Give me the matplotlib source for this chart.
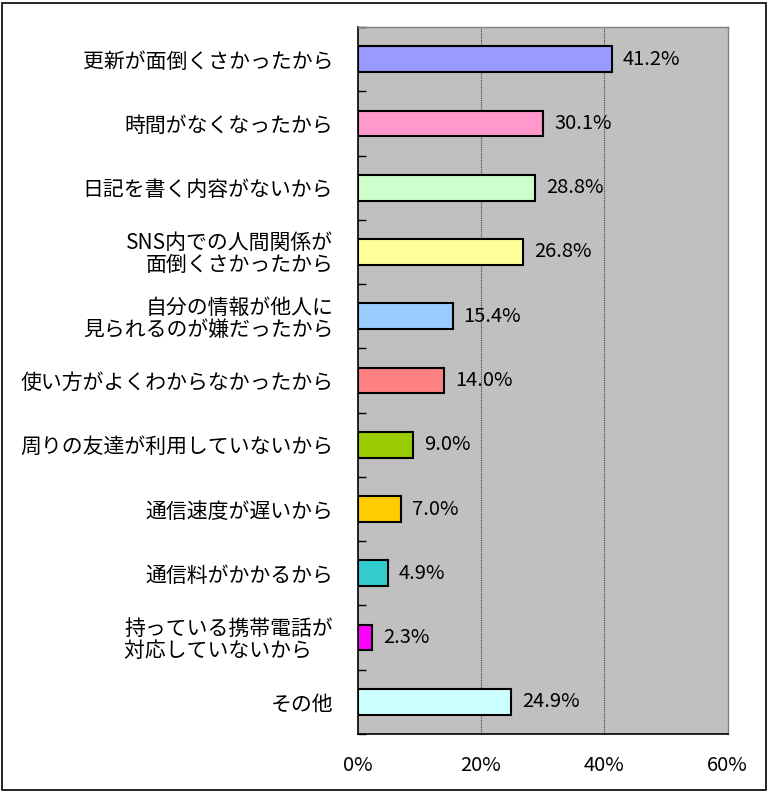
import matplotlib
matplotlib.use("Agg")
import matplotlib.pyplot as plt
from matplotlib.patches import Rectangle

plt.rcParams['font.family'] = ['Noto Sans CJK JP', 'DejaVu Sans']

categories = [
    "更新が面倒くさかったから",
    "時間がなくなったから",
    "日記を書く内容がないから",
    "SNS内での人間関係が\n面倒くさかったから",
    "自分の情報が他人に\n見られるのが嫌だったから",
    "使い方がよくわからなかったから",
    "周りの友達が利用していないから",
    "通信速度が遅いから",
    "通信料がかかるから",
    "持っている携帯電話が\n対応していないから　",
    "その他",
]
values = [41.2, 30.1, 28.8, 26.8, 15.4, 14.0, 9.0, 7.0, 4.9, 2.3, 24.9]
colors = ["#9999FF", "#FF99CC", "#CCFFCC", "#FFFF99", "#99CCFF", "#FF8080",
          "#99CC00", "#FFCC00", "#33CCCC", "#FF00FF", "#CCFFFF"]
xticks = [0, 20, 40, 60]
xticklabels = ["0%", "20%", "40%", "60%"]

fig = plt.figure(figsize=(7.7, 7.93), dpi=100)
fig.patch.set_facecolor("white")
fig.patches.append(Rectangle((0.003, 0.004), 0.992, 0.992, transform=fig.transFigure,
                             fill=False, edgecolor="black", linewidth=1.2))

ax = fig.add_axes([0.4643, 0.0744, 0.4807, 0.8915])
ax.set_facecolor("#C0C0C0")

n = len(categories)
ypos = list(range(n))
ax.barh(ypos, values, height=0.4, color=colors, edgecolor="black", linewidth=1.5, zorder=3)
ax.set_ylim(n - 0.5, -0.5)
ax.set_xlim(0, 60)

for y, v in zip(ypos, values):
    ax.text(v + 1.8, y, f"{v:.1f}%", va="center", ha="left", fontsize=14.5, zorder=4)

ax.set_xticks(xticks)
ax.set_xticklabels(xticklabels, fontsize=14.5)
ax.set_yticks(ypos)
ax.set_yticklabels(categories, fontsize=15, linespacing=1.0, multialignment="right")
ax.tick_params(axis="y", length=0, pad=17.5)
ax.tick_params(axis="x", length=0, pad=15)

# minor ticks between categories (inward)
ax.set_yticks([i - 0.5 for i in range(n + 1)], minor=True)
ax.tick_params(axis="y", which="minor", direction="in", length=6, width=1, color="black")
ax.set_xticks(xticks, minor=True)
ax.tick_params(axis="x", which="minor", direction="in", length=6, width=1, color="black")

for x in [20, 40]:
    ax.axvline(x, color="#404040", linestyle=(0, (1, 1)), linewidth=0.8, zorder=1)

for side in ["left", "bottom"]:
    ax.spines[side].set_color("black")
    ax.spines[side].set_linewidth(1.2)
for side in ["top", "right"]:
    ax.spines[side].set_color("#808080")
    ax.spines[side].set_linewidth(1.0)

fig.savefig("out.png", dpi=100)
